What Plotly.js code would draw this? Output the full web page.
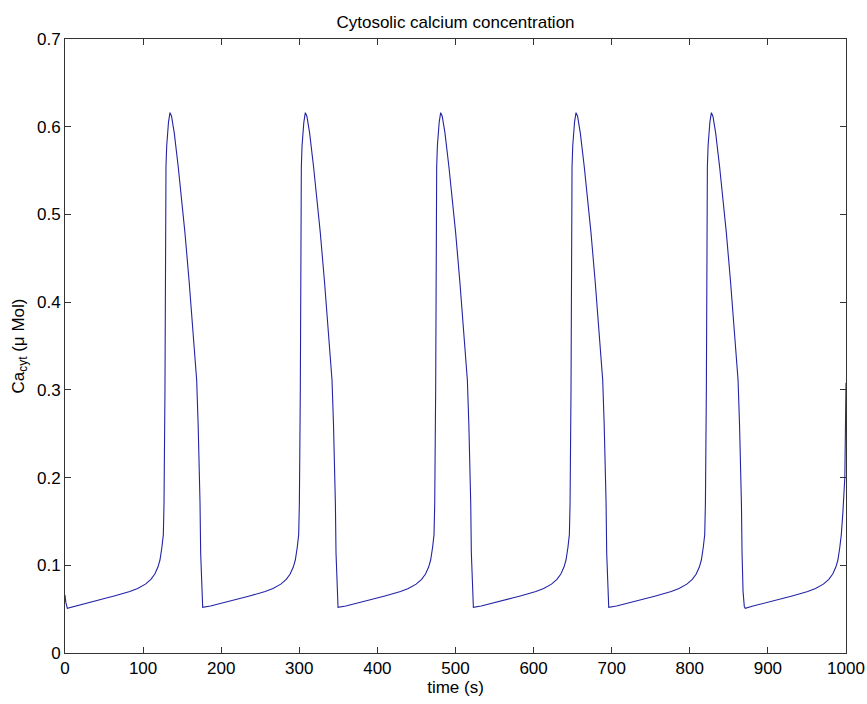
<!DOCTYPE html>
<html>
<head>
<meta charset="utf-8">
<script src="https://cdn.plot.ly/plotly-3.0.1.min.js"></script>
<style>
html,body{margin:0;padding:0;background:#fff;}
#chart{width:867px;height:704px;}
</style>
</head>
<body>
<div id="chart"></div>
<script>
// time (s)
const timeS = [
  0, 1, 3,
  13, 23, 33, 43, 53, 63, 73, 83, 93, 103, 110, 115, 119, 121.6, 124, 125.9, 126.8, 128, 129.3, 130.2, 132.5, 134.4,
  136.4, 139.9, 145, 149.4, 153.6, 159, 164.3, 168.6, 170.5, 172, 172.9, 173.7, 175, 176.3,
  186.3, 196.3, 206.3, 216.3, 226.3, 236.3, 246.3, 256.3, 266.3, 276.3, 283.3, 288.3, 292.3, 294.9, 297.3, 299.2, 300.1, 301.3, 302.6, 303.5, 305.8, 307.7,
  309.7, 313.2, 318.3, 322.7, 326.9, 332.3, 337.6, 341.9, 343.8, 345.3, 346.2, 347, 348.3, 349.6,
  359.6, 369.6, 379.6, 389.6, 399.6, 409.6, 419.6, 429.6, 439.6, 449.6, 456.6, 461.6, 465.6, 468.2, 470.6, 472.5, 473.4, 474.6, 475.9, 476.8, 479.1, 481,
  483, 486.5, 491.6, 496, 500.2, 505.6, 510.9, 515.2, 517.1, 518.6, 519.5, 520.3, 521.6, 522.9,
  532.9, 542.9, 552.9, 562.9, 572.9, 582.9, 592.9, 602.9, 612.9, 622.9, 629.9, 634.9, 638.9, 641.5, 643.9, 645.8, 646.7, 647.9, 649.2, 650.1, 652.4, 654.3,
  656.3, 659.8, 664.9, 669.3, 673.5, 678.9, 684.2, 688.5, 690.4, 691.9, 692.8, 693.6, 694.9, 696.2,
  706.2, 716.2, 726.2, 736.2, 746.2, 756.2, 766.2, 776.2, 786.2, 796.2, 803.2, 808.2, 812.2, 814.8, 817.2, 819.1, 820, 821.2, 822.5, 823.4, 825.7, 827.6,
  829.6, 833.1, 838.2, 842.6, 846.8, 852.2, 857.5, 861.8, 863.7, 865.2, 866.1, 866.9, 868.2, 869.8, 871,
  881, 891, 901, 911, 921, 931, 941, 951, 961, 971, 978, 983, 987, 989.6, 992, 994, 996, 998.5, 1000
];
// cytosolic calcium (µMol)
const cacyt = [
  0.066, 0.058, 0.051,
  0.0535, 0.056, 0.058, 0.0605, 0.0627, 0.065, 0.0675, 0.070, 0.0735, 0.0785, 0.084, 0.090, 0.098, 0.106, 0.120, 0.135, 0.171, 0.300, 0.554, 0.578, 0.605, 0.616,
  0.612, 0.593, 0.554, 0.517, 0.479, 0.423, 0.365, 0.311, 0.260, 0.209, 0.171, 0.114, 0.070, 0.052,
  0.0535, 0.056, 0.058, 0.0605, 0.0627, 0.065, 0.0675, 0.070, 0.0735, 0.0785, 0.084, 0.090, 0.098, 0.106, 0.120, 0.135, 0.171, 0.300, 0.554, 0.578, 0.605, 0.616,
  0.612, 0.593, 0.554, 0.517, 0.479, 0.423, 0.365, 0.311, 0.260, 0.209, 0.171, 0.114, 0.070, 0.052,
  0.0535, 0.056, 0.058, 0.0605, 0.0627, 0.065, 0.0675, 0.070, 0.0735, 0.0785, 0.084, 0.090, 0.098, 0.106, 0.120, 0.135, 0.171, 0.300, 0.554, 0.578, 0.605, 0.616,
  0.612, 0.593, 0.554, 0.517, 0.479, 0.423, 0.365, 0.311, 0.260, 0.209, 0.171, 0.114, 0.070, 0.052,
  0.0535, 0.056, 0.058, 0.0605, 0.0627, 0.065, 0.0675, 0.070, 0.0735, 0.0785, 0.084, 0.090, 0.098, 0.106, 0.120, 0.135, 0.171, 0.300, 0.554, 0.578, 0.605, 0.616,
  0.612, 0.593, 0.554, 0.517, 0.479, 0.423, 0.365, 0.311, 0.260, 0.209, 0.171, 0.114, 0.070, 0.052,
  0.0535, 0.056, 0.058, 0.0605, 0.0627, 0.065, 0.0675, 0.070, 0.0735, 0.0785, 0.084, 0.090, 0.098, 0.106, 0.120, 0.135, 0.171, 0.300, 0.554, 0.578, 0.605, 0.616,
  0.612, 0.593, 0.554, 0.517, 0.479, 0.423, 0.365, 0.311, 0.260, 0.209, 0.171, 0.114, 0.070, 0.053, 0.051,
  0.0535, 0.056, 0.058, 0.0605, 0.0627, 0.065, 0.0675, 0.070, 0.0735, 0.0785, 0.084, 0.090, 0.098, 0.106, 0.120, 0.135, 0.160, 0.200, 0.308
];
const xTickVals = [0, 100, 200, 300, 400, 500, 600, 700, 800, 900, 1000];
const yTickVals = [0, 0.1, 0.2, 0.3, 0.4, 0.5, 0.6, 0.7];
const yTickText = ['0', '0.1', '0.2', '0.3', '0.4', '0.5', '0.6', '0.7'];

const FONT = 'Liberation Sans, Arial, sans-serif';

const trace = {
  x: timeS,
  y: cacyt,
  type: 'scatter',
  mode: 'lines',
  line: {color: '#2323a6', width: 1.1},
  hoverinfo: 'skip'
};

const axisCommon = {
  showgrid: false,
  zeroline: false,
  showline: true,
  linecolor: '#333333',
  linewidth: 1,
  mirror: 'allticks',
  ticks: 'inside',
  ticklen: 6,
  tickwidth: 1,
  tickcolor: '#333333',
  tickfont: {family: FONT, size: 17, color: '#000'}
};

const layout = {
  width: 867,
  height: 704,
  paper_bgcolor: '#ffffff',
  plot_bgcolor: '#ffffff',
  showlegend: false,
  margin: {l: 65, r: 21, t: 39, b: 51, pad: 0},
  font: {family: FONT, size: 17, color: '#000'},
  title: {
    text: 'Cytosolic calcium concentration',
    font: {family: FONT, size: 17, color: '#000'},
    x: 0.5, xref: 'paper', xanchor: 'center',
    y: 1 - 22 / 704, yref: 'container', yanchor: 'middle'
  },
  xaxis: Object.assign({}, axisCommon, {
    range: [0, 1000],
    tickvals: xTickVals,
    ticktext: xTickVals.map(String),
    title: {text: 'time (s)', font: {family: FONT, size: 17, color: '#000'}, standoff: 2}
  }),
  yaxis: Object.assign({}, axisCommon, {
    range: [0, 0.7],
    tickvals: yTickVals,
    ticktext: yTickText,
    title: {text: 'Ca<sub>cyt</sub> (μ Mol)', font: {family: FONT, size: 17, color: '#000'}, standoff: 8}
  })
};

Plotly.newPlot('chart', [trace], layout, {staticPlot: true, displayModeBar: false});
</script>
</body>
</html>
